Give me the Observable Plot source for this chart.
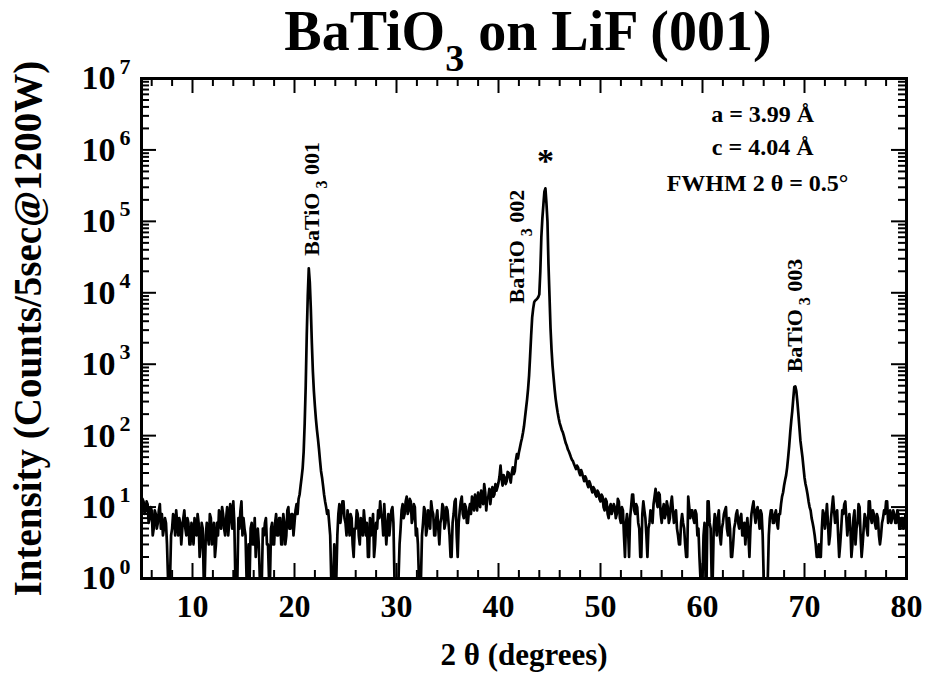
<!DOCTYPE html>
<html>
<head>
<meta charset="utf-8">
<script src="https://cdn.jsdelivr.net/npm/d3@7"></script>
<script src="https://cdn.jsdelivr.net/npm/@observablehq/plot@0.6"></script>
<style>
  html, body { margin: 0; padding: 0; background: #fff; }
  #chart { width: 926px; height: 683px; }
</style>
</head>
<body>
<div id="chart"></div>
<script>
// ---- Scan (2θ from 5.0° to 80.0° in 0.1° steps), counts ----
const scanStart = 5.0;
const scanStep = 0.1;
const counts = [
  10,13,12,8,9,12,11,6,7,10,9,4,5,9,8,5,6,9,11,5,                         // 5.0 - 6.9
  8,4,5,7,6,3,1,1,1,4,5,8,7,4,9,6,4,7,6,3,                                // 7.0 - 8.9
  5,7,9,5,4,7,6,3,3,6,5,3,7,5,4,8,6,2,3,6,                                // 9.0 - 10.9
  5,1,1,4,6,4,3,8,7,3,4,6,2,3,6,4,9,7,5,10,                               // 11.0 - 12.9
  8,5,4,7,10,4,6,11,9,5,12,6,1,1,1,7,5,9,12,4,                            // 13.0 - 14.9
  7,5,4,1,1,3,1,5,6,3,3,7,2,4,5,3,1,1,1,5,                                // 15.0 - 16.9
  4,6,7,3,3,1,1,5,6,3,3,6,8,4,4,7,7,3,3,8,                                // 17.0 - 18.9
  6,3,4,9,10,5,5,8,8,4,6,9,11,8,13,15,20,26,35,60,                        // 19.0 - 20.9
  150,500,2500,9000,22000,14000,6000,2000,800,420,260,170,120,90,65,45,32,26,20,15, // 21.0 - 22.9
  12,10,8,9,6,4,1,1,1,3,1,1,4,8,11,6,8,12,12,7,                           // 23.0 - 24.9
  6,4,9,6,4,8,7,3,2,5,5,9,8,4,3,7,6,4,9,6,                                // 25.0 - 26.9
  4,6,2,2,7,4,5,8,2,3,6,5,9,7,12,8,7,4,11,6,                              // 27.0 - 28.9
  3,5,8,4,6,9,10,6,1,1,1,1,1,3,5,9,11,7,8,12,                             // 29.0 - 30.9
  14,8,9,13,12,6,7,11,10,4,5,3,1,1,1,4,6,10,9,4,                          // 31.0 - 32.9
  5,9,7,5,12,9,8,4,4,7,9,5,3,6,7,11,10,5,6,10,                            // 33.0 - 34.9
  9,6,4,2,2,6,8,12,13,4,2,6,9,12,14,8,7,11,10,6,                          // 35.0 - 36.9
  6,9,11,8,14,12,9,15,12,9,16,12,10,17,13,11,21,16,9,13,                  // 37.0 - 38.9
  14,18,11,15,19,14,15,21,17,19,22,27,38,25,20,28,26,21,23,31,            // 39.0 - 40.9
  30,26,22,30,36,29,32,45,55,48,58,68,80,92,110,135,180,240,320,450,      // 41.0 - 42.9
  700,1300,2500,4500,6000,7400,7800,8000,8300,8700,9500,20000,60000,110000,170000,260000,290000,180000,100000,25000, // 43.0 - 44.9
  9000,3200,1600,950,650,450,330,260,210,175,150,135,120,112,100,88,78,72,64,60, // 45.0 - 46.9
  55,50,46,44,40,37,34,38,36,31,28,33,30,26,23,27,25,21,19,23,            // 47.0 - 48.9
  21,18,16,19,18,15,14,17,16,13,12,15,14,10,9,13,12,8,7,10,               // 49.0 - 50.9
  11,8,9,11,10,7,8,13,12,7,6,10,9,4,2,6,8,5,2,7,                          // 51.0 - 52.9
  10,15,15,9,8,11,10,6,5,2,2,8,12,9,7,4,2,5,6,9,                          // 53.0 - 54.9
  8,6,11,14,18,12,10,16,15,8,6,9,11,7,8,12,10,6,7,11,                     // 55.0 - 56.9
  14,9,6,8,9,5,4,3,3,6,8,6,5,3,2,2,14,10,7,9,                             // 57.0 - 58.9
  9,7,6,9,8,4,5,2,1,1,1,4,6,1,1,12,12,6,5,1,                              // 59.0 - 60.9
  1,5,8,6,4,7,9,4,3,5,6,8,9,10,5,4,7,5,2,2,                               // 61.0 - 62.9
  3,5,6,8,9,6,5,7,8,4,4,6,3,5,7,4,2,5,8,10,                               // 63.0 - 64.9
  12,8,6,9,10,7,5,9,8,4,1,1,1,1,1,4,7,9,9,6,                              // 65.0 - 66.9
  6,8,9,6,5,8,8,11,14,16,20,24,28,36,50,72,110,160,220,330,               // 67.0 - 68.9
  480,490,420,300,200,130,85,65,50,36,26,21,18,15,12,10,9,7,6,5,          // 69.0 - 70.9
  4,3,2,2,3,2,2,5,9,8,5,7,11,6,3,4,7,10,14,9,                             // 71.0 - 72.9
  6,8,9,4,2,3,5,9,8,11,12,7,4,6,8,5,2,3,7,9,                              // 73.0 - 74.9
  3,5,6,11,10,4,2,3,5,8,7,5,4,12,12,7,6,9,8,6,                            // 75.0 - 76.9
  5,8,7,4,3,4,6,7,9,8,12,12,6,7,9,6,7,9,8,6,                              // 77.0 - 78.9
  6,9,8,5,5,7,7,5,6,8,8                                                   // 79.0 - 80.0
];

// ---- Axes ----
const xTickLabels = [10, 20, 30, 40, 50, 60, 70, 80];
const xMajorTicks = [10, 20, 30, 40, 50, 60, 70];
const xMinorTicks = [6, 8, 12, 14, 16, 18, 22, 24, 26, 28, 32, 34, 36, 38, 42, 44, 46, 48, 52, 54, 56, 58, 62, 64, 66, 68, 72, 74, 76, 78];
const yDecades = [1, 10, 100, 1000, 10000, 100000, 1000000, 10000000];
const yExponents = ["0", "1", "2", "3", "4", "5", "6", "7"];
const yMinorMultipliers = [2, 3, 4, 5, 6, 7, 8, 9];

// ---- Text ----
const titleText = "BaTiO3 on LiF (001)";
const xLabel = "2 θ (degrees)";
const yLabel = "Intensity (Counts/5sec@1200W)";
const peakLabels = ["BaTiO3 001", "BaTiO3 002", "BaTiO3 003"];
const peakLabelX = [21.7, 41.8, 69.1];
const peakLabelY = [33000, 7100, 770];
const starText = ["*"];
const starX = [44.6];
const starY = [700000];
const notes = ["a = 3.99 Å", "c = 4.04 Å", "FWHM 2 θ = 0.5°"];
const noteX = [65.9, 65.9, 65.4];
const noteY = [3200000, 1100000, 340000];

// ---- Build tables ----
const scan = counts.map((c, i) => ({t: scanStart + i * scanStep, c}));
const yMinorTicks = yDecades.slice(0, -1).flatMap(d => yMinorMultipliers.map(m => m * d));
const peakRows = peakLabels.map((s, i) => ({s, x: peakLabelX[i], y: peakLabelY[i]}));
const noteRows = notes.map((s, i) => ({s, x: noteX[i], y: noteY[i]}));
const starRows = starText.map((s, i) => ({s, x: starX[i], y: starY[i]}));

const serif = '"Liberation Serif", "Times New Roman", Times, serif';
const W = 926, H = 683, mL = 141, mR = 20, mT = 78, mB = 105;
const fw = W - mL - mR, fh = H - mT - mB;
const majorLen = 15, minorLen = 8;

const chart = Plot.plot({
  width: W, height: H,
  marginLeft: mL, marginRight: mR, marginTop: mT, marginBottom: mB,
  x: {domain: [5, 80], axis: null},
  y: {type: "log", domain: [1, 1e7], axis: null},
  style: {background: "white", fontFamily: serif, color: "black"},
  marks: [
    // inward ticks, all four sides
    Plot.ruleX(xMajorTicks, {x: d => d, insetTop: fh - majorLen, stroke: "black", strokeWidth: 2}),
    Plot.ruleX(xMajorTicks, {x: d => d, insetBottom: fh - majorLen, stroke: "black", strokeWidth: 2}),
    Plot.ruleX(xMinorTicks, {x: d => d, insetTop: fh - minorLen, stroke: "black", strokeWidth: 2}),
    Plot.ruleX(xMinorTicks, {x: d => d, insetBottom: fh - minorLen, stroke: "black", strokeWidth: 2}),
    Plot.ruleY(yDecades, {y: d => d, insetRight: fw - majorLen, stroke: "black", strokeWidth: 2}),
    Plot.ruleY(yDecades, {y: d => d, insetLeft: fw - majorLen, stroke: "black", strokeWidth: 2}),
    Plot.ruleY(yMinorTicks, {y: d => d, insetRight: fw - minorLen, stroke: "black", strokeWidth: 2}),
    Plot.ruleY(yMinorTicks, {y: d => d, insetLeft: fw - minorLen, stroke: "black", strokeWidth: 2}),
    // data
    Plot.line(scan, {x: "t", y: "c", stroke: "black", strokeWidth: 2.7}),
    Plot.frame({stroke: "black", strokeWidth: 3}),
    // tick labels
    Plot.text(xTickLabels, {x: d => d, frameAnchor: "bottom", dy: 38, text: d => String(d),
      fontSize: 32, fontWeight: "bold", fill: "black"}),
    Plot.text(yDecades, {y: d => d, frameAnchor: "left", dx: -26, text: () => "10", textAnchor: "end",
      fontSize: 34, fontWeight: "bold", fill: "black"}),
    Plot.text(yDecades, {y: d => d, frameAnchor: "left", dx: -22, dy: -12, text: (d, i) => yExponents[i], textAnchor: "start",
      fontSize: 22, fontWeight: "bold", fill: "black"}),
    // axis labels and title
    Plot.text([xLabel], {frameAnchor: "bottom", dy: 86, text: d => d, fontSize: 31, fontWeight: "bold", fill: "black"}),
    Plot.text([yLabel], {frameAnchor: "left", dx: -113, rotate: -90, textAnchor: "middle", lineAnchor: "middle",
      text: d => d, fontSize: 39, fontWeight: "bold", fill: "black"}),
    Plot.text([titleText], {frameAnchor: "top", dy: -68, dx: 4, text: d => d, fontSize: 56, fontWeight: "bold", fill: "black"}),
    // annotations
    Plot.text(peakRows, {x: "x", y: "y", text: "s", rotate: -90, textAnchor: "start", fontSize: 22, fontWeight: "bold", fill: "black"}),
    Plot.text(starRows, {x: "x", y: "y", text: "s", fontSize: 34, fontWeight: "bold", fill: "black"}),
    Plot.text(noteRows, {x: "x", y: "y", text: "s", fontSize: 24, fontWeight: "bold", fill: "black"})
  ]
});

document.getElementById("chart").appendChild(chart);

// subscripts for chemical formula
const rich = {
  "BaTiO3 on LiF (001)": 'BaTiO<tspan dy="21" font-size="38">3</tspan><tspan dy="-21"> on LiF (001)</tspan>',
  "BaTiO3 001": 'BaTiO<tspan dy="8" font-size="16"> 3</tspan><tspan dy="-8"> 001</tspan>',
  "BaTiO3 002": 'BaTiO<tspan dy="8" font-size="16"> 3</tspan><tspan dy="-8"> 002</tspan>',
  "BaTiO3 003": 'BaTiO<tspan dy="8" font-size="16"> 3</tspan><tspan dy="-8"> 003</tspan>'
};
d3.select(chart).selectAll("text").each(function () {
  const m = rich[this.textContent];
  if (m) this.innerHTML = m;
});
</script>
</body>
</html>
